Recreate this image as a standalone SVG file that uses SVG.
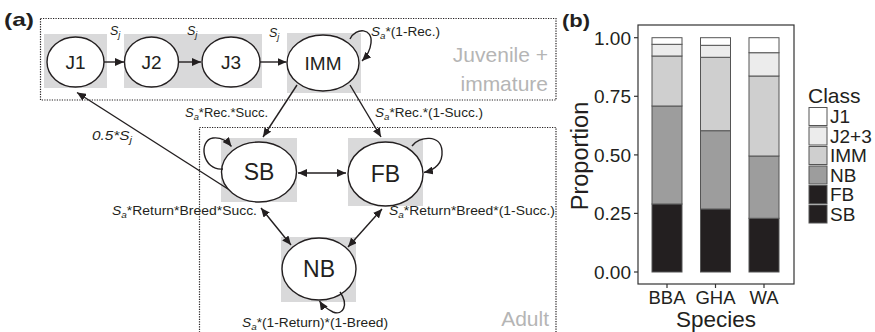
<svg xmlns="http://www.w3.org/2000/svg" width="875" height="332" viewBox="0 0 875 332">
<defs>
<style>
text{font-family:"Liberation Sans",Arial,sans-serif;fill:#231f20}
.gr{fill:#d9d9da;stroke:none}
.el{fill:#fff;stroke:#231f20;stroke-width:1.4}
.nl{font-size:19px;text-anchor:middle}
.nb{font-size:23px;text-anchor:middle}
.lb{font-size:12.5px}
.it{font-style:italic}
.sub{font-size:9px;font-style:italic}
.box{fill:none;stroke:#231f20;stroke-width:1.2;stroke-dasharray:1.2 1.3}
.grt{font-size:21px;fill:#b5b5b5;text-anchor:end}
.ed{fill:none;stroke:#231f20;stroke-width:1.4}
.tk{font-size:19px;text-anchor:end}
.seg{stroke:#555;stroke-width:1}
</style>
<marker id="ah" viewBox="0 0 9 8" refX="9" refY="4" markerWidth="9" markerHeight="8" markerUnits="userSpaceOnUse" orient="auto-start-reverse">
<path d="M0,0 L9,4 L0,8 z" fill="#231f20"/>
</marker>
</defs>
<rect width="875" height="332" fill="#fff"/>

<text x="4" y="26" font-size="19" font-weight="bold" textLength="30" lengthAdjust="spacingAndGlyphs">(a)</text>
<text x="562" y="27" font-size="19" font-weight="bold" textLength="28" lengthAdjust="spacingAndGlyphs">(b)</text>

<g id="group-boxes">
<rect class="box" x="40.5" y="18.5" width="515.5" height="81.5"/>
<path class="box" d="M199.5,340 L199.5,127.5 L556,127.5 L556,340"/>
<text class="grt" x="548" y="62">Juvenile +</text>
<text class="grt" x="548" y="91">immature</text>
<text class="grt" x="549" y="326">Adult</text>
</g>

<g id="node-J1">
<rect class="gr" x="44" y="34" width="63" height="54"/>
<ellipse class="el" cx="75.5" cy="62" rx="28.5" ry="25"/>
<text class="nl" x="75.5" y="69">J1</text>
</g>
<g id="node-J2">
<rect class="gr" x="124" y="34" width="70" height="54"/>
<ellipse class="el" cx="151.5" cy="62" rx="27" ry="25"/>
<text class="nl" x="151.5" y="69">J2</text>
</g>
<g id="node-J3">
<rect class="gr" x="194" y="34" width="68" height="54"/>
<ellipse class="el" cx="231" cy="62" rx="29" ry="25"/>
<text class="nl" x="231" y="69">J3</text>
</g>
<g id="node-IMM">
<rect class="gr" x="287" y="33" width="74" height="60"/>
<ellipse class="el" cx="323" cy="63" rx="36" ry="28"/>
<text class="nl" x="323" y="70">IMM</text>
</g>
<g id="node-SB">
<rect class="gr" x="221" y="138" width="76" height="64"/>
<ellipse class="el" cx="259" cy="172" rx="37.5" ry="30"/>
<text class="nb" x="259" y="180">SB</text>
</g>
<g id="node-FB">
<rect class="gr" x="348" y="138" width="75" height="68"/>
<ellipse class="el" cx="385.5" cy="174" rx="37.5" ry="32"/>
<text class="nb" x="385.5" y="182">FB</text>
</g>
<g id="node-NB">
<rect class="gr" x="281" y="237" width="75" height="65"/>
<ellipse class="el" cx="319" cy="269" rx="37" ry="31"/>
<text class="nb" x="319" y="277">NB</text>
</g>

<g id="connectors">
<line class="ed" x1="104" y1="62" x2="124" y2="62" marker-end="url(#ah)"/>
<line class="ed" x1="178.5" y1="62" x2="201" y2="62" marker-end="url(#ah)"/>
<line class="ed" x1="260" y1="62" x2="286.5" y2="62" marker-end="url(#ah)"/>
<path class="ed" d="M350,39 C356,27 373,28 371,43 C370,52 366,57 362,61" marker-end="url(#ah)"/>
<line class="ed" x1="297" y1="85" x2="263" y2="137" marker-end="url(#ah)"/>
<line class="ed" x1="350" y1="85" x2="381" y2="137" marker-end="url(#ah)"/>
<line class="ed" x1="228" y1="189" x2="77" y2="92.5" marker-end="url(#ah)"/>
<path class="ed" d="M223,169 C202,171 198,140 213,138 C221,137 227,141 231.5,146.5" marker-end="url(#ah)"/>
<path class="ed" d="M412,146 C419,136 441,134 442,151 C443,163 435,170 424,172.5" marker-end="url(#ah)"/>
<line class="ed" x1="298" y1="173" x2="346" y2="173" marker-start="url(#ah)" marker-end="url(#ah)"/>
<line class="ed" x1="261" y1="208" x2="291" y2="245" marker-start="url(#ah)" marker-end="url(#ah)"/>
<line class="ed" x1="382" y1="209" x2="348" y2="247" marker-start="url(#ah)" marker-end="url(#ah)"/>
<path class="ed" d="M340,292 C349,305 343,316 333,312 C327,309 322,305 319.5,301" marker-end="url(#ah)"/>
</g>

<g id="edge-labels">
<text class="lb it" x="110" y="35">S<tspan class="sub" dy="3">j</tspan></text>
<text class="lb it" x="187" y="35">S<tspan class="sub" dy="3">j</tspan></text>
<text class="lb it" x="269" y="37">S<tspan class="sub" dy="3">j</tspan></text>
<text class="lb" x="371" y="36" textLength="69" lengthAdjust="spacingAndGlyphs"><tspan class="it">S</tspan><tspan class="sub" dy="3">a</tspan><tspan dy="-3">*(1-Rec.)</tspan></text>
<text class="lb" x="185" y="117" textLength="83" lengthAdjust="spacingAndGlyphs"><tspan class="it">S</tspan><tspan class="sub" dy="3">a</tspan><tspan dy="-3">*Rec.*Succ.</tspan></text>
<text class="lb" x="375" y="117" textLength="108" lengthAdjust="spacingAndGlyphs"><tspan class="it">S</tspan><tspan class="sub" dy="3">a</tspan><tspan dy="-3">*Rec.*(1-Succ.)</tspan></text>
<text class="lb it" x="92" y="140" textLength="40" lengthAdjust="spacingAndGlyphs">0.5*S<tspan class="sub" dy="3">j</tspan></text>
<text class="lb" x="112" y="215" textLength="145" lengthAdjust="spacingAndGlyphs"><tspan class="it">S</tspan><tspan class="sub" dy="3">a</tspan><tspan dy="-3">*Return*Breed*Succ.</tspan></text>
<text class="lb" x="389" y="215" textLength="166" lengthAdjust="spacingAndGlyphs"><tspan class="it">S</tspan><tspan class="sub" dy="3">a</tspan><tspan dy="-3">*Return*Breed*(1-Succ.)</tspan></text>
<text class="lb" x="242" y="327" textLength="146" lengthAdjust="spacingAndGlyphs"><tspan class="it">S</tspan><tspan class="sub" dy="3">a</tspan><tspan dy="-3">*(1-Return)*(1-Breed)</tspan></text>
</g>

<g id="chart">
<rect x="638" y="25" width="156" height="259" fill="#fff" stroke="#333" stroke-width="1.2"/>
<g stroke="#333" stroke-width="1.2">
<line x1="634" y1="37.7" x2="638" y2="37.7"/>
<line x1="634" y1="96.3" x2="638" y2="96.3"/>
<line x1="634" y1="154.9" x2="638" y2="154.9"/>
<line x1="634" y1="213.4" x2="638" y2="213.4"/>
<line x1="634" y1="272" x2="638" y2="272"/>
<line x1="667" y1="284" x2="667" y2="288"/>
<line x1="715.5" y1="284" x2="715.5" y2="288"/>
<line x1="764" y1="284" x2="764" y2="288"/>
</g>
<text class="tk" x="631" y="44.5">1.00</text>
<text class="tk" x="631" y="103">0.75</text>
<text class="tk" x="631" y="161.5">0.50</text>
<text class="tk" x="631" y="220">0.25</text>
<text class="tk" x="631" y="279">0.00</text>
<g class="seg">
<rect x="652" y="204" width="30" height="68" fill="#231f20"/>
<rect x="652" y="106" width="30" height="98" fill="#9d9d9d"/>
<rect x="652" y="56" width="30" height="50" fill="#cfcfcf"/>
<rect x="652" y="44.3" width="30" height="11.7" fill="#ececec"/>
<rect x="652" y="37.7" width="30" height="6.6" fill="#fff"/>
<rect x="700.5" y="209" width="30" height="63" fill="#231f20"/>
<rect x="700.5" y="130.7" width="30" height="78.3" fill="#9d9d9d"/>
<rect x="700.5" y="57.3" width="30" height="73.4" fill="#cfcfcf"/>
<rect x="700.5" y="45.3" width="30" height="12" fill="#ececec"/>
<rect x="700.5" y="37.7" width="30" height="7.6" fill="#fff"/>
<rect x="749" y="218.3" width="30" height="53.7" fill="#231f20"/>
<rect x="749" y="156" width="30" height="62.3" fill="#9d9d9d"/>
<rect x="749" y="76" width="30" height="80" fill="#cfcfcf"/>
<rect x="749" y="52.7" width="30" height="23.3" fill="#ececec"/>
<rect x="749" y="37.7" width="30" height="15" fill="#fff"/>
</g>
<text font-size="18.5" text-anchor="middle" x="667" y="304">BBA</text>
<text font-size="18.5" text-anchor="middle" x="715.5" y="304">GHA</text>
<text font-size="18.5" text-anchor="middle" x="764" y="304">WA</text>
<text font-size="22.5" text-anchor="middle" x="716" y="327">Species</text>
<text font-size="23.5" text-anchor="middle" transform="translate(588,156) rotate(-90)">Proportion</text>
</g>

<g id="legend">
<text font-size="21" x="808" y="103">Class</text>
<g class="seg">
<rect x="809" y="107.5" width="18" height="18" fill="#fff"/>
<rect x="809" y="127" width="18" height="18" fill="#ececec"/>
<rect x="809" y="146.5" width="18" height="18" fill="#cfcfcf"/>
<rect x="809" y="166" width="18" height="18" fill="#9d9d9d"/>
<rect x="809" y="185.5" width="18" height="18" fill="#231f20"/>
<rect x="809" y="205" width="18" height="18" fill="#231f20"/>
</g>
<g font-size="19">
<text x="830" y="123">J1</text>
<text x="830" y="142.5">J2+3</text>
<text x="830" y="162">IMM</text>
<text x="830" y="181.5">NB</text>
<text x="830" y="201">FB</text>
<text x="830" y="220.5">SB</text>
</g>
</g>
</svg>
